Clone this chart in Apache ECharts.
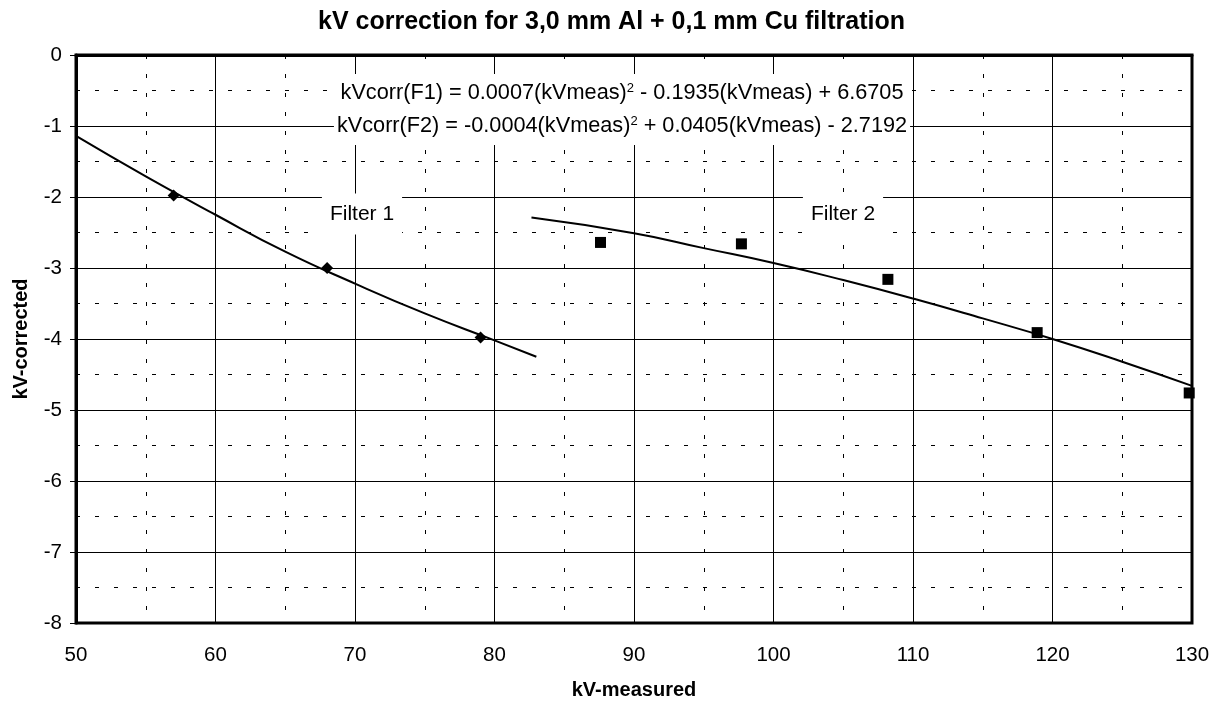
<!DOCTYPE html>
<html>
<head>
<meta charset="utf-8">
<script src="https://cdn.jsdelivr.net/npm/echarts@6/dist/echarts.min.js"></script>
<style>html,body{margin:0;padding:0;background:#fff;}#c{width:1223px;height:702px;}</style>
</head>
<body>
<div id="c"></div>
<script>
// Data
var filter1X = [57, 68, 79];
var filter1Y = [-1.98, -3.0, -3.98];
var filter2X = [87.6, 97.7, 108.2, 118.9, 129.8];
var filter2Y = [-2.64, -2.66, -3.16, -3.91, -4.76];
var trend1X = [50, 55, 60, 65, 70, 75, 80, 83];
var trend1Y = [-1.14, -1.71, -2.25, -2.77, -3.22, -3.64, -4.02, -4.25];
var trend2X = [82.65, 90, 95, 100, 105, 110, 115, 120, 125, 130];
var trend2Y = [-2.29, -2.51, -2.72, -2.93, -3.17, -3.43, -3.71, -4.0, -4.32, -4.66];
var titleText = 'kV correction for 3,0 mm Al + 0,1 mm Cu filtration';
var xName = 'kV-measured';
var yName = 'kV-corrected';
var eq1 = 'kVcorr(F1) = 0.0007(kVmeas){sup|2} - 0.1935(kVmeas) + 6.6705';
var eq2 = 'kVcorr(F2) = -0.0004(kVmeas){sup|2} + 0.0405(kVmeas) - 2.7192';
var label1 = 'Filter 1';
var label2 = 'Filter 2';

function pairs(xs, ys) { return xs.map(function (x, i) { return [x, ys[i]]; }); }

var FONT = "'Liberation Sans', Arial, sans-serif";
var chart = echarts.init(document.getElementById('c'), null, {renderer: 'canvas'});
var dashMinor = {type: [4, 15], color: '#000', width: 1};

chart.setOption({
  animation: false,
  backgroundColor: '#fff',
  title: {
    text: titleText, left: 'center', top: 5,
    textStyle: {fontFamily: FONT, fontSize: 25, fontWeight: 'bold', color: '#000'}
  },
  grid: {left: 76, right: 31, top: 55, bottom: 79, show: true, borderColor: '#000', borderWidth: 3,
         backgroundColor: 'transparent', containLabel: false, outerBoundsMode: 'none'},
  xAxis: {
    type: 'value', min: 50, max: 130, interval: 10,
    name: xName, nameLocation: 'middle', nameGap: 57,
    nameTextStyle: {fontFamily: FONT, fontSize: 20, fontWeight: 'bold', color: '#000'},
    axisLine: {show: true, lineStyle: {color: '#000', width: 3}},
    axisTick: {show: false},
    axisLabel: {fontFamily: FONT, fontSize: 20.5, color: '#000', margin: 22},
    splitLine: {show: true, lineStyle: {color: '#000', width: 1}},
    minorTick: {show: false, splitNumber: 2},
    minorSplitLine: {show: true, lineStyle: dashMinor}
  },
  yAxis: {
    type: 'value', min: -8, max: 0, interval: 1,
    name: yName, nameLocation: 'middle', nameGap: 45, nameRotate: 90,
    nameTextStyle: {fontFamily: FONT, fontSize: 20, fontWeight: 'bold', color: '#000'},
    axisLine: {show: true, lineStyle: {color: '#000', width: 3}},
    axisTick: {show: true, inside: false, length: 6, lineStyle: {color: '#000', width: 1}},
    axisLabel: {fontFamily: FONT, fontSize: 20.5, color: '#000', margin: 14},
    splitLine: {show: true, lineStyle: {color: '#000', width: 1}},
    minorTick: {show: false, splitNumber: 2},
    minorSplitLine: {show: true, lineStyle: dashMinor}
  },
  series: [
    {type: 'line', data: pairs(trend1X, trend1Y), smooth: true, showSymbol: false, symbol: 'none',
     lineStyle: {color: '#000', width: 2}, z: 3},
    {type: 'line', data: pairs(trend2X, trend2Y), smooth: true, showSymbol: false, symbol: 'none',
     lineStyle: {color: '#000', width: 2}, z: 3},
    {type: 'scatter', data: pairs(filter1X, filter1Y), symbol: 'diamond', symbolSize: 12,
     itemStyle: {color: '#000', opacity: 1}, z: 4},
    {type: 'scatter', data: pairs(filter2X, filter2Y), symbol: 'rect', symbolSize: 11,
     itemStyle: {color: '#000', opacity: 1}, z: 4, clip: false}
  ],
  graphic: [
    {type: 'text', x: 622, y: 92, z: 1, style: {
      text: eq1, align: 'center', verticalAlign: 'middle', fontFamily: FONT, fontSize: 21.7, fill: '#000',
      backgroundColor: '#fff', padding: [8, 3, 6, 3],
      rich: {sup: {fontFamily: FONT, fontSize: 13, verticalAlign: 'top', fill: '#000'}}}},
    {type: 'text', x: 622, y: 127, z: 1, style: {
      text: eq2, align: 'center', verticalAlign: 'middle', fontFamily: FONT, fontSize: 21.7, fill: '#000',
      backgroundColor: '#fff', padding: [6, 3, 8, 3],
      rich: {sup: {fontFamily: FONT, fontSize: 13, verticalAlign: 'top', fill: '#000'}}}},
    {type: 'text', x: 362, y: 214, z: 1, style: {
      text: label1, align: 'center', verticalAlign: 'middle', fontFamily: FONT, fontSize: 21, fill: '#000',
      backgroundColor: '#fff', padding: [10, 8, 10, 8]}},
    {type: 'text', x: 843, y: 214, z: 1, style: {
      text: label2, align: 'center', verticalAlign: 'middle', fontFamily: FONT, fontSize: 21, fill: '#000',
      backgroundColor: '#fff', padding: [10, 8, 10, 8]}}
  ]
});
</script>
</body>
</html>
